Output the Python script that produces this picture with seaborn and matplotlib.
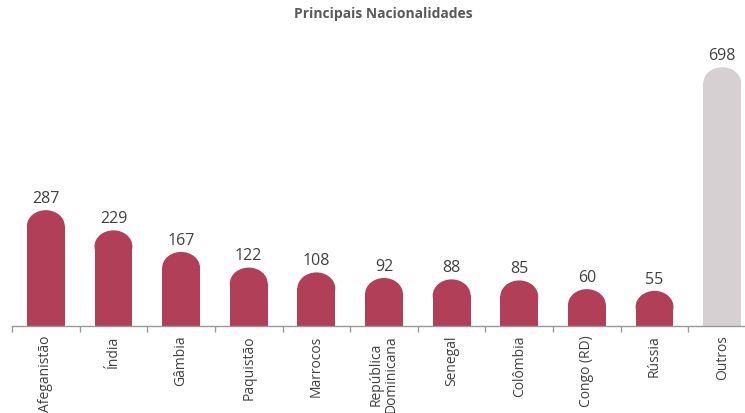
import matplotlib
matplotlib.use("Agg")
import matplotlib.pyplot as plt
from matplotlib.patches import Ellipse
import seaborn as sns
import pandas as pd

categories = ["Afeganistão", "Índia", "Gâmbia", "Paquistão", "Marrocos",
              "República\nDominicana", "Senegal", "Colômbia", "Congo (RD)",
              "Rússia", "Outros"]
values = [287, 229, 167, 122, 108, 92, 88, 85, 60, 55, 698]
colors = ["#B03F57"] * 10 + ["#D6D0D3"]

sns.set_theme(style="white")
plt.rcParams['font.family'] = ['Open Sans', 'DejaVu Sans']

df = pd.DataFrame({"cat": categories, "val": values})

fig = plt.figure(figsize=(7.45, 4.14), dpi=100)
ax = fig.add_axes([12/745, 1 - 327/414, (756 - 12)/745, (327 - 40)/414])

sns.barplot(data=df, x="cat", y="val", hue="cat", palette=colors,
            legend=False, width=0.56, ax=ax, saturation=1,
            edgecolor="none", linewidth=0)

ax.set_xlim(-0.5, 10.5)
ymax = 825
ax.set_ylim(0, ymax)
fig.canvas.draw()

ax_h_px = ax.get_window_extent().height
px_per_unit = ax_h_px / ymax
cap_px = 32
cap_h = cap_px / px_per_unit

for p, v, c in zip(ax.patches, values, colors):
    x0 = p.get_x()
    w = p.get_width()
    cx = x0 + w / 2
    e = Ellipse((cx, v), w, cap_h, facecolor=c, edgecolor="none", linewidth=0,
                zorder=p.get_zorder())
    ax.add_patch(e)
    ax.annotate(str(v), (cx, v), xytext=(0, cap_px / 2 / 1.389 + 3),
                textcoords="offset points", ha="center", va="bottom",
                fontsize=11.5, color="#404040")

for s in ["top", "right", "left"]:
    ax.spines[s].set_visible(False)
ax.spines["bottom"].set_color("#999999")
ax.spines["bottom"].set_linewidth(1)
ax.set_yticks([])
ax.set_xlabel("")
ax.set_ylabel("")
ax.set_xticks(range(len(categories)))
ax.set_xticklabels(categories, rotation=90, fontsize=10, color="#404040",
                   va="top", ha="center", linespacing=1.0)
ax.tick_params(axis="x", which="major", length=0, pad=6)
ax.set_xticks([i + 0.5 for i in range(-1, 10)], minor=True)
ax.tick_params(axis="x", which="minor", length=4, color="#999999", width=1,
               direction="out", bottom=True)

fig.text(383/745, 1 - 14/414, "Principais Nacionalidades", ha="center", va="center",
         fontsize=10, fontweight="bold", color="#595959")

fig.savefig("out.png", dpi=100)
